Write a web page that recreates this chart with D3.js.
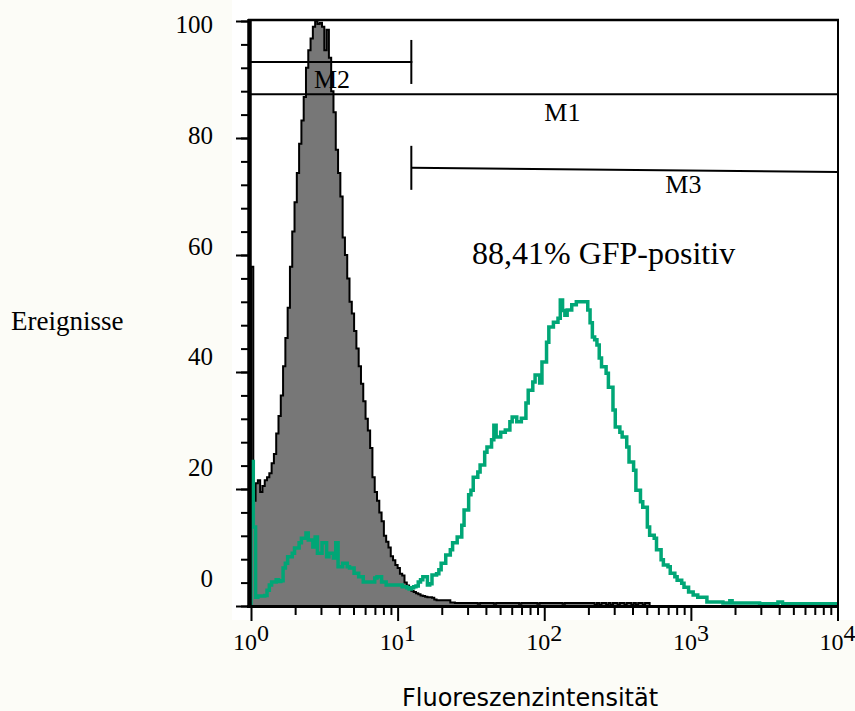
<!DOCTYPE html>
<html>
<head>
<meta charset="utf-8">
<script src="https://cdn.jsdelivr.net/npm/d3@7"></script>
<style>
  body { margin: 0; background: #fcfcf7; }
  svg { display: block; }
</style>
</head>
<body>
<svg id="chart"></svg>
<script>
// 256 channels, 64 per decade (10^0 .. 10^4)
var channelsPerDecade = 64;

// control (grey, filled)
var greyCounts = [
  58, 18, 21, 21.5, 19.5, 20.5, 21.5, 22, 22.7, 24.4, 26, 29.5, 32.5, 36, 41, 45.8,
  51, 58, 64, 69, 74, 79, 83, 87, 92, 95, 97, 99, 100, 99.5, 99.7, 99,
  95, 98.5, 93.7, 88, 84.4, 78, 74, 70, 63, 60, 56, 52, 50, 47, 44, 41,
  38, 35, 32, 30, 27, 22, 19.5, 18, 16, 14.5, 12, 11, 10, 8.5, 7.8, 7,
  6.5, 5.5, 5.2, 4, 3.5, 3, 2.6, 2.4, 2.2, 2, 1.8, 1.7, 1.6, 1.5, 1.5, 1.4,
  1.1, 1, 1, 1, 1, 1, 1, 0.6, 0.6, 0.5, 0.5, 0.5, 0.5, 0.5, 0.5, 0.5,
  0.5, 0.5, 0.5, 0.4, 0.5, 0.5, 0.5, 0.5, 0.5, 0.5, 0.4, 0.5, 0.5, 0.5, 0.5, 0.5,
  0.5, 0.5, 0.5, 0.5, 0.5, 0.4, 0.5, 0.5, 0.5, 0.5, 0.5, 0.5, 0.5, 0.4, 0.5, 0.5,
  0.5, 0.5, 0.5, 0.5, 0.5, 0.5, 0.5, 0.5, 0.4, 0.5, 0.5, 0.5, 0.5, 0.5, 0.5, 0.5,
  0.5, 0.5, 0.5, 0.5, 0.5, 0.5, 0.2, 0.5, 0.2, 0.5, 0.5, 0.2, 0.5, 0.2, 0.5, 0.5,
  0.2, 0.5, 0.5, 0.2, 0.5, 0.5, 0.2, 0.5, 0.2, 0.5, 0.5, 0.2, 0.5, 0.5, 0, 0
];

// transfected (green line)
var greenCounts = [
  24.7, 13.5, 1.5, 1.7, 1.7, 1.7, 1.8, 2.7, 3.6, 4.1, 4.1, 4.5, 4.2, 4.3, 6.5, 7.3,
  8.4, 8.4, 9, 9.9, 9.9, 10.8, 11.6, 11.6, 12.5, 11.3, 11.3, 10.1, 11.8, 9, 9, 10.8,
  10.8, 8.4, 9, 9, 8.2, 10.8, 6.7, 6.7, 7.3, 7.3, 6.7, 6.5, 6.5, 5.6, 5.6, 5,
  5, 4.1, 4.1, 4.1, 4.1, 4.1, 4.8, 5, 5, 4.1, 4.1, 3.6, 3.6, 3.6, 3.6, 3.6,
  3.6, 3.6, 3.3, 3.3, 3.1, 2.9, 3.1, 3.3, 3.4, 4.1, 4.5, 5, 5, 3.6, 3.8, 5.3,
  5.3, 5.5, 6.2, 7.3, 7.3, 8.7, 8.7, 9.6, 10.8, 10.8, 11.8, 11.8, 13.8, 16.4, 16.4, 19,
  19.8, 22, 22, 22.9, 24.1, 24.1, 26.3, 27.2, 27.2, 28.4, 30.9, 28.9, 28.9, 29.7, 29.7, 30.1,
  30.1, 31.5, 32.3, 32.3, 31.5, 31.5, 32.1, 32.1, 34.7, 36.9, 36.9, 38.3, 39.5, 39.5, 38.1, 41.7,
  41.7, 45.1, 47.7, 47.7, 48.5, 48.5, 49.2, 52.3, 50.5, 49.7, 50.6, 50.6, 51.5, 51.5, 52, 52,
  52, 52, 52, 50.6, 48.4, 46, 45.5, 44.6, 42.4, 40.9, 40.9, 39.8, 37.4, 37.4, 33.5, 30.6,
  30.6, 29.7, 28.9, 28.9, 27.2, 24.6, 24.6, 23.2, 19.8, 19.8, 17.8, 16.9, 16.9, 13.5, 12.1, 12.1,
  11.6, 9.6, 9.6, 7.9, 7, 7, 6.7, 5.6, 5.6, 5, 4.4, 4.4, 3.9, 3.2, 3.2, 2.4,
  2.4, 1.9, 1.9, 1.5, 1.5, 1.5, 1.5, 0.7, 0.7, 0.7, 0.7, 0.7, 0.7, 0.7, 0.5, 0.5,
  0.5, 0.9, 0.5, 0.5, 0.5, 0.5, 0.5, 0.5, 0.5, 0.5, 0.5, 0.5, 0.5, 0.5, 0.4, 0.4,
  0.4, 0.4, 0.4, 0.4, 0.4, 0.4, 0.7, 0.7, 0.4, 0.4, 0.4, 0.4, 0.4, 0.4, 0.4, 0.4,
  0.4, 0.4, 0.4, 0.4, 0.4, 0.4, 0.4, 0.4, 0.4, 0.4, 0.4, 0.4, 0.4, 0.4, 0.4, 0.3
];

var yTickValues = [0, 20, 40, 60, 80, 100];
var yTickLabels = ["0", "20", "40", "60", "80", "100"];
var xDecades = [0, 1, 2, 3, 4];

// markers: name, from, to, level at start, level at end
var markerNames = ["M1", "M2", "M3"];
var markerFrom = [1, 1, 12.4];
var markerTo = [10000, 12.4, 10000];
var markerLevelA = [87.5, 93.0, 74.9];
var markerLevelB = [87.5, 93.0, 74.2];

var width = 855, height = 711;

var svg = d3.select('#chart')
    .attr('width', width)
    .attr('height', height);

// white picture area
svg.append('rect')
    .attr('x', 232).attr('y', 0)
    .attr('width', width - 232).attr('height', 620)
    .attr('fill', '#fff');

var x = d3.scaleLog().domain([1, 10000]).range([251, 837.5]);
var y = d3.scaleLinear().domain([0, 100]).range([606, 21]);
// the y labels sit on their own spacing in the original
var yLab = d3.scaleLinear().domain([0, 100]).range([587, 33]);

function chan(i) { return Math.pow(10, i / channelsPerDecade); }

function toPoints(counts) {
    var pts = counts.map((v, i) => ({x: chan(i), v: v}));
    pts.push({x: chan(counts.length), v: counts[counts.length - 1]});
    return pts;
}

var greyPts = toPoints(greyCounts);
var greenPts = toPoints(greenCounts);

var area = d3.area()
    .curve(d3.curveStepAfter)
    .x(d => x(d.x))
    .y0(y(0))
    .y1(d => y(d.v));

var line = d3.line()
    .curve(d3.curveStepAfter)
    .x(d => x(d.x))
    .y(d => y(d.v));

svg.append('path')
    .attr('d', area(greyPts))
    .attr('fill', '#777');

svg.append('path')
    .attr('d', line([{x: 1, v: 0}].concat(greyPts)))
    .attr('fill', 'none')
    .attr('stroke', '#000')
    .attr('stroke-width', 2);

svg.append('path')
    .attr('d', line([{x: 1, v: 0}].concat(greenPts)))
    .attr('fill', 'none')
    .attr('stroke', '#00a676')
    .attr('stroke-width', 3.5);

// markers
markerNames.forEach(function (m, i) {
    svg.append('line')
        .attr('x1', x(markerFrom[i])).attr('x2', x(markerTo[i]) + 1)
        .attr('y1', y(markerLevelA[i])).attr('y2', y(markerLevelB[i]))
        .attr('stroke', '#000').attr('stroke-width', 2);
    [[markerFrom[i], markerLevelA[i]], [markerTo[i], markerLevelB[i]]].forEach(function (e) {
        if (e[0] > 1 && e[0] < 10000) {
            svg.append('line')
                .attr('x1', x(e[0])).attr('x2', x(e[0]))
                .attr('y1', y(e[1]) - 22).attr('y2', y(e[1]) + 22)
                .attr('stroke', '#000').attr('stroke-width', 2);
        }
    });
});

var markerLabelAt = {M1: [133, 82.9], M2: [3.57, 88.5], M3: [889, 70.6]};
Object.keys(markerLabelAt).forEach(function (m) {
    svg.append('text')
        .attr('x', x(markerLabelAt[m][0]))
        .attr('y', y(markerLabelAt[m][1]))
        .attr('text-anchor', 'middle')
        .style('font-family', 'Liberation Serif')
        .style('font-size', '26px')
        .text(m);
});

svg.append('text')
    .attr('x', 472).attr('y', 264)
    .style('font-family', 'Liberation Serif')
    .style('font-size', '32px')
    .text('88,41% GFP-positiv');

// frame
svg.append('line')
    .attr('x1', 248).attr('x2', 839)
    .attr('y1', 20).attr('y2', 20)
    .attr('stroke', '#000').attr('stroke-width', 2.5);
svg.append('line')
    .attr('x1', 838).attr('x2', 838)
    .attr('y1', 19).attr('y2', 607)
    .attr('stroke', '#000').attr('stroke-width', 2);

// y axis ticks
var yMinor = d3.range(0, 101, 4);
svg.append('g')
    .attr('transform', 'translate(248,0)')
    .call(d3.axisLeft(y).tickValues(yMinor).tickSize(7).tickFormat(''))
    .call(g => g.select('.domain').remove())
    .selectAll('line').attr('stroke-width', 2);
svg.append('g')
    .attr('transform', 'translate(248,0)')
    .call(d3.axisLeft(y).tickValues(yTickValues).tickSize(12).tickFormat(''))
    .call(g => g.select('.domain').remove())
    .selectAll('line').attr('stroke-width', 2);

svg.selectAll('.ylab')
    .data(yTickValues)
    .enter()
    .append('text')
    .attr('x', 213)
    .attr('y', d => yLab(d))
    .attr('text-anchor', 'end')
    .style('font-family', 'Liberation Serif')
    .style('font-size', '25px')
    .text((d, i) => yTickLabels[i]);

// x axis ticks
var xMinor = [];
xDecades.slice(0, -1).forEach(d => [2, 3, 4, 5, 6, 7, 8, 9].forEach(k => xMinor.push(k * Math.pow(10, d))));
svg.append('g')
    .attr('transform', 'translate(0,607)')
    .call(d3.axisBottom(x).tickValues(xMinor).tickSize(8).tickFormat(''))
    .call(g => g.select('.domain').remove())
    .selectAll('line').attr('stroke-width', 2);
svg.append('g')
    .attr('transform', 'translate(0,607)')
    .call(d3.axisBottom(x).tickValues(xDecades.map(d => Math.pow(10, d))).tickSize(14).tickFormat(''))
    .call(g => g.select('.domain').remove())
    .selectAll('line').attr('stroke-width', 2);

xDecades.forEach(function (d) {
    var t = svg.append('text')
        .attr('x', x(Math.pow(10, d)))
        .attr('y', 650)
        .attr('text-anchor', 'middle')
        .style('font-family', 'Liberation Serif')
        .style('font-size', '24px');
    t.append('tspan').text('10');
    t.append('tspan').attr('dy', -9).text(d);
});

// axis lines
svg.append('line')
    .attr('x1', 249.5).attr('x2', 249.5)
    .attr('y1', 19).attr('y2', 608)
    .attr('stroke', '#000').attr('stroke-width', 4.5);
svg.append('line')
    .attr('x1', 247).attr('x2', 839)
    .attr('y1', 606.5).attr('y2', 606.5)
    .attr('stroke', '#000').attr('stroke-width', 3);

// titles
svg.append('text')
    .attr('x', 11).attr('y', 330)
    .style('font-family', 'Liberation Serif')
    .style('font-size', '27px')
    .text('Ereignisse');

svg.append('text')
    .attr('x', 402).attr('y', 706)
    .style('font-family', 'DejaVu Sans')
    .style('font-size', '24px')
    .text('Fluoreszenzintensität');
</script>
</body>
</html>
